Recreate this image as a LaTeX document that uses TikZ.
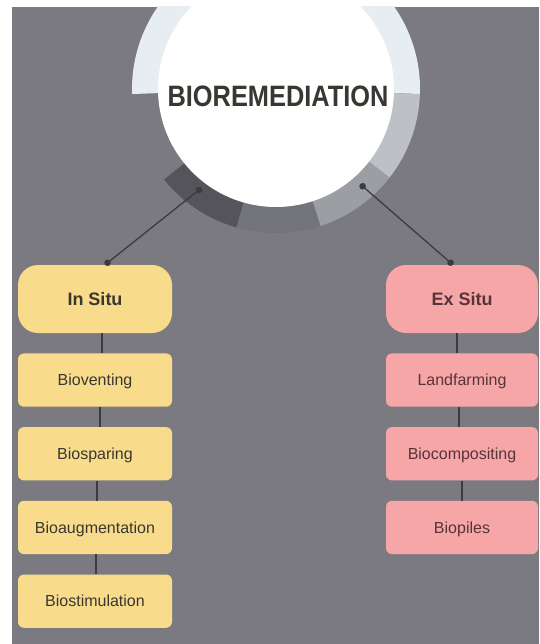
\documentclass[tikz,border=0pt]{standalone}
\usepackage{fontspec}
\setmainfont{Liberation Sans}
\usetikzlibrary{positioning,arrows.meta,calc}
\definecolor{BoardGray}{HTML}{7B7A80}
\definecolor{RingPale}{HTML}{E7EEF1}
\definecolor{RingLight}{HTML}{BDC1C5}
\definecolor{RingMid}{HTML}{9B9EA3}
\definecolor{RingSlate}{HTML}{727479}
\definecolor{RingDark}{HTML}{55545B}
\definecolor{SitYellow}{HTML}{F8DC8C}
\definecolor{ExPink}{HTML}{F7A6A8}
\definecolor{SitText}{HTML}{3A3632}
\definecolor{ExText}{HTML}{553538}
\definecolor{LinkDark}{HTML}{3B3B41}

\begin{document}
\begin{tikzpicture}[x=1pt, y=1pt, node distance=20pt,
    headbox/.style={rounded corners=20pt, minimum width=154pt, minimum height=68pt, text height=13pt, text depth=0pt, font=\bfseries\fontsize{18}{20}\selectfont},
    itembox/.style={rounded corners=6pt, minimum width=154pt, minimum height=53.3pt, text height=11.5pt, text depth=0pt, font=\fontsize{16}{18}\selectfont},
    link/.style={LinkDark, line width=1.3pt}]
  \useasboundingbox (0,0) rectangle (539,-644);
  \fill[BoardGray] (12,-7) rectangle (539,-644);
  \coordinate (hub) at (276,-89);
  % ring round the title
  \begin{scope}
    \clip (12,-7) rectangle (539,-644);
    \foreach \from/\to/\col in {-2/182/RingPale, -38/-2/RingLight, -72/-38/RingMid, -106/-72/RingSlate, -141/-106/RingDark}
      \fill[\col] (hub) -- ++(\from:144) arc[start angle=\from, end angle=\to, radius=144] -- cycle;
    \fill[white] (hub) circle[radius=118];
  \end{scope}
  \node[anchor=base, xscale=0.86, text=SitText, font=\bfseries\fontsize{29.5}{30}\selectfont] (title) at (278,-107) {BIOREMEDIATION};
  \coordinate (dotL) at ($(hub)+(233:124)$);
  \coordinate (dotR) at ($(hub)+(-48.5:127)$);

  % in situ column
  \node[headbox, fill=SitYellow, text=SitText] (insitu) at (95,-299) {In Situ};
  \node[itembox, fill=SitYellow, text=SitText, below=of insitu] (bioventing) {Bioventing};
  \node[itembox, fill=SitYellow, text=SitText, below=of bioventing] (biosparing) {Biosparing};
  \node[itembox, fill=SitYellow, text=SitText, below=of biosparing] (bioaug) {Bioaugmentation};
  \node[itembox, fill=SitYellow, text=SitText, below=of bioaug] (biostim) {Biostimulation};

  % ex situ column
  \node[headbox, fill=ExPink, text=ExText, minimum width=152pt] (exsitu) at (462,-299) {Ex Situ};
  \node[itembox, fill=ExPink, text=ExText, minimum width=152pt, below=of exsitu] (landfarming) {Landfarming};
  \node[itembox, fill=ExPink, text=ExText, minimum width=152pt, below=of landfarming] (biocomp) {Biocompositing};
  \node[itembox, fill=ExPink, text=ExText, minimum width=152pt, below=of biocomp] (biopiles) {Biopiles};

  \draw[link, {Circle[length=6.5pt]}-{Circle[length=6.5pt]}] (dotL) -- ([xshift=10pt]insitu.north);
  \draw[link, {Circle[length=6.5pt]}-{Circle[length=6.5pt]}] (dotR) -- ([xshift=-9pt]exsitu.north);
  \draw[link] ([xshift=7pt]insitu.south) -- ([xshift=7pt]bioventing.north);
  \draw[link] ([xshift=5pt]bioventing.south) -- ([xshift=5pt]biosparing.north);
  \draw[link] ([xshift=2pt]biosparing.south) -- ([xshift=2pt]bioaug.north);
  \draw[link] ([xshift=1pt]bioaug.south) -- ([xshift=1pt]biostim.north);
  \draw[link] ([xshift=-5pt]exsitu.south) -- ([xshift=-5pt]landfarming.north);
  \draw[link] ([xshift=-3pt]landfarming.south) -- ([xshift=-3pt]biocomp.north);
  \draw[link] (biocomp) -- (biopiles);
\end{tikzpicture}
\end{document}
